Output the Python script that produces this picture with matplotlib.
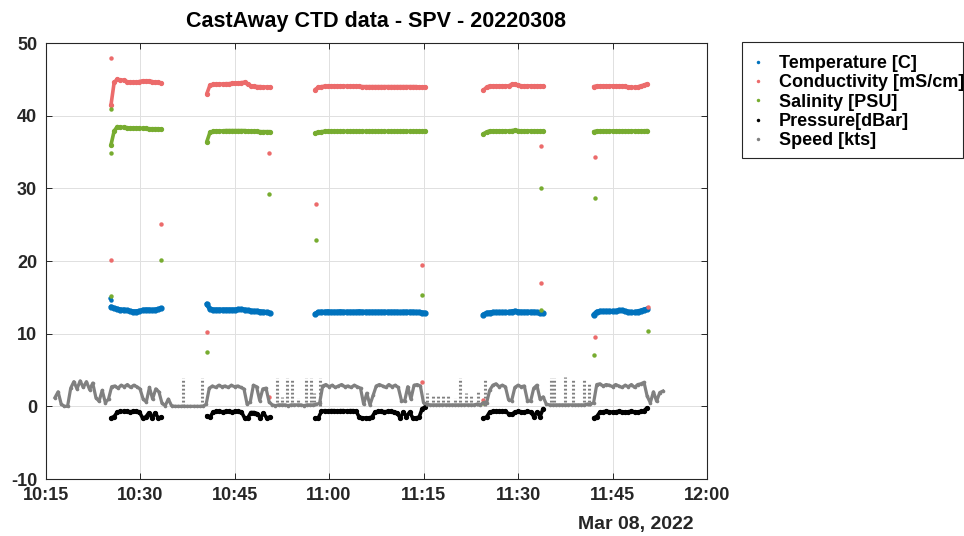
import matplotlib
matplotlib.use('Agg')
import matplotlib.pyplot as plt
import matplotlib.dates as mdates
from matplotlib.lines import Line2D
from matplotlib.patches import Rectangle
from datetime import datetime
import numpy as np

plt.rcParams['font.family'] = ['Liberation Sans', 'DejaVu Sans']
plt.rcParams['axes.unicode_minus'] = False

# ---------------- data (time in minutes after 10:15, 8 Mar 2022) ----------------
T0 = datetime(2022, 3, 8, 10, 15)
STEP = 0.5  # sampling interval of tabulated values (minutes)

cast_start = [10.4, 25.6, 42.8, 69.5, 87.0]

temp_casts = [
    [13.7, 13.5, 13.4, 13.3, 13.3, 13.2, 13.1, 13.05, 13.05, 13.1, 13.25, 13.3, 13.3, 13.25, 13.3, 13.35, 13.5],
    [14.1, 13.4, 13.3, 13.3, 13.3, 13.3, 13.3, 13.3, 13.3, 13.3, 13.35, 13.35, 13.3, 13.2, 13.15, 13.1, 13.1,
     13.05, 13.0, 12.95, 12.85],
    [12.7, 12.95, 13.0, 13.0, 13.05, 13.0, 13.0, 13.0, 13.05, 13.0, 13.0, 13.0, 13.0, 13.0, 13.05, 13.0, 13.0,
     13.0, 13.0, 13.0, 13.0, 13.0, 13.0, 13.0, 13.0, 13.0, 13.0, 12.95, 13.0, 13.0, 13.0, 13.0, 12.95, 12.95,
     12.9, 12.85],
    [12.6, 12.85, 12.9, 12.95, 12.95, 12.95, 12.95, 12.95, 12.95, 13.05, 13.1, 13.05, 13.0, 13.0, 13.0, 13.0,
     13.0, 12.95, 12.85, 12.8],
    [12.6, 13.0, 13.1, 13.1, 13.1, 13.1, 13.1, 13.1, 13.2, 13.2, 13.1, 13.0, 12.95, 12.95, 13.05, 13.15, 13.3, 13.4],
]

cond_casts = [
    [41.5, 44.6, 45.0, 44.9, 44.9, 44.7, 44.6, 44.6, 44.6, 44.7, 44.8, 44.8, 44.8, 44.7, 44.6, 44.6, 44.5],
    [43.0, 44.2, 44.3, 44.3, 44.35, 44.35, 44.4, 44.4, 44.45, 44.45, 44.5, 44.55, 44.6, 44.3, 44.1, 44.05, 44.0,
     44.0, 43.95, 43.95, 43.95],
    [43.6, 43.9, 44.0, 44.05, 44.05, 44.1, 44.1, 44.1, 44.1, 44.1, 44.05, 44.05, 44.05, 44.05, 44.05, 44.0, 44.0,
     44.0, 44.0, 44.0, 44.0, 44.0, 44.0, 44.0, 44.0, 44.0, 44.0, 44.0, 44.0, 44.0, 44.0, 44.0, 44.0, 43.95,
     43.95, 43.95],
    [43.5, 43.9, 44.1, 44.1, 44.1, 44.1, 44.1, 44.1, 44.1, 44.3, 44.35, 44.2, 44.1, 44.1, 44.1, 44.1, 44.1, 44.1,
     44.1, 44.1],
    [44.0, 44.1, 44.1, 44.1, 44.1, 44.1, 44.1, 44.1, 44.1, 44.1, 44.05, 43.95, 43.9, 43.9, 43.95, 44.1, 44.2, 44.4],
]

sal_casts = [
    [36.0, 37.9, 38.5, 38.4, 38.4, 38.35, 38.3, 38.3, 38.3, 38.3, 38.25, 38.25, 38.2, 38.2, 38.2, 38.2, 38.15],
    [36.4, 37.7, 37.85, 37.9, 37.9, 37.9, 37.95, 37.95, 37.95, 37.95, 37.95, 37.95, 37.95, 37.9, 37.85, 37.85,
     37.85, 37.8, 37.8, 37.8, 37.8],
    [37.6, 37.75, 37.8, 37.85, 37.85, 37.85, 37.85, 37.85, 37.85, 37.85, 37.85, 37.85, 37.85, 37.85, 37.85,
     37.85, 37.85, 37.85, 37.85, 37.85, 37.85, 37.85, 37.85, 37.85, 37.85, 37.85, 37.85, 37.85, 37.85, 37.85,
     37.85, 37.85, 37.85, 37.85, 37.85, 37.85],
    [37.5, 37.75, 37.9, 37.9, 37.9, 37.9, 37.9, 37.9, 37.9, 37.95, 38.0, 37.95, 37.9, 37.9, 37.9, 37.9, 37.9,
     37.9, 37.9, 37.9],
    [37.8, 37.9, 37.9, 37.9, 37.9, 37.9, 37.9, 37.9, 37.9, 37.9, 37.9, 37.9, 37.9, 37.9, 37.9, 37.9, 37.9, 37.95],
]

pres_casts = [
    [-1.6, -1.4, -0.8, -0.7, -0.7, -0.7, -0.75, -0.7, -0.7, -0.75, -1.6, -1.5, -0.9, -1.6, -0.9, -1.6, -1.5],
    [-1.3, -1.5, -0.8, -0.7, -0.7, -0.75, -0.7, -0.7, -0.75, -0.7, -0.7, -0.75, -1.6, -1.6, -0.85, -0.85, -1.0,
     -1.6, -0.9, -1.6, -1.5],
    [-1.6, -1.6, -0.7, -0.6, -0.65, -0.6, -0.6, -0.65, -0.6, -0.6, -0.65, -0.6, -0.6, -0.65, -1.5, -1.6, -1.6,
     -1.6, -1.5, -0.8, -0.7, -0.7, -0.75, -0.7, -0.7, -0.75, -0.9, -1.6, -0.8, -1.4, -0.8, -1.6, -1.6, -1.5,
     -0.3, -0.1],
    [-1.6, -1.5, -0.8, -0.7, -0.7, -0.7, -0.7, -0.7, -1.0, -1.1, -0.8, -0.7, -0.75, -0.8, -0.7, -0.75, -1.4,
     -0.8, -1.4, -0.3],
    [-1.6, -1.4, -0.8, -0.75, -0.7, -0.75, -0.8, -0.75, -0.7, -0.75, -0.8, -0.75, -0.7, -0.75, -0.8, -0.7, -0.6,
     -0.2],
]

# isolated points (surface / transition samples)
temp_out_t = [10.3, 10.33]
temp_out_v = [14.9, 14.6]
cond_out_t = [10.35, 10.35, 18.4, 25.7, 35.5, 35.5, 42.9, 59.7, 59.8, 69.5, 78.6, 78.65, 87.2, 87.2, 95.7]
cond_out_v = [47.9, 20.1, 25.1, 10.2, 34.9, 1.3, 27.8, 3.4, 19.4, 0.9, 35.8, 17.0, 34.3, 9.5, 13.7]
sal_out_t = [10.35, 10.35, 10.35, 18.4, 25.7, 35.5, 42.9, 59.8, 69.5, 78.6, 78.6, 87.2, 87.1, 95.7]
sal_out_v = [40.9, 34.9, 15.2, 20.2, 7.5, 29.2, 22.9, 15.3, 0.5, 30.0, 13.2, 28.7, 7.1, 10.4]

# speed record, every 0.5 min from 10:16:30
speed_start = 1.5
speed = [
    1.2, 2.0, 0.3, 0.0, 0.0, 2.5, 3.4, 2.4,
    3.5, 2.6, 3.4, 2.3, 3.2, 1.2, 0.7, 2.2, 0.5,
    1.0, 2.7, 2.8, 2.5, 2.9, 2.7, 3.0, 2.6, 2.9, 2.7, 2.4,
    1.0, 0.6, 2.6, 1.0, 2.4, 2.0, 0.4, 0.1, 1.0, 0.1,
    0.0, 0.0, 0.0, 0.0, 0.0, 0.0, 0.0, 0.0, 0.0, 0.0, 0.3,
    2.5, 2.8, 2.6, 2.9, 2.7, 2.8, 2.6, 2.9, 2.7, 2.8, 2.6, 2.4,
    0.3, 0.6, 2.9, 2.7, 0.8, 2.4, 2.5, 0.6,
    0.2, 0.1, 0.2, 0.2, 0.2, 0.1, 0.2, 0.2, 0.2, 0.2, 0.1, 0.2, 0.2, 0.2, 0.3, 0.4,
    2.8, 3.0, 2.7, 2.9, 2.6, 2.8, 3.0, 2.7, 2.8, 2.6, 2.9, 2.7, 2.5,
    0.3, 1.8, 0.2, 1.5, 2.8, 3.0, 2.8, 2.6, 3.0, 2.7, 2.9, 2.6, 0.8, 0.7, 2.7, 1.0, 2.9, 3.0, 2.8, 0.5,
    0.3, 0.2, 0.2, 0.2, 0.2, 0.2, 0.2, 0.2, 0.2, 0.2, 0.2, 0.2, 0.2, 0.2, 0.2, 0.2, 0.3, 0.2, 0.5, 0.4,
    2.2, 2.9, 3.1, 2.7, 2.9, 2.7, 0.9, 0.8, 2.6, 2.9, 2.7, 2.8, 0.8, 0.7, 2.5, 2.9, 1.0, 1.3,
    0.3, 0.2, 0.2, 0.2, 0.2, 0.2, 0.2, 0.2, 0.2, 0.2, 0.2, 0.2, 0.2, 0.3, 0.3, 0.5,
    3.0, 3.1, 2.8, 3.0, 2.9, 2.7, 3.0, 2.8, 2.6, 2.9, 2.7, 3.0, 2.6, 3.0, 3.1, 3.3, 1.4, 0.5, 2.0, 0.7, 1.9, 2.1,
]

# short bursts of speed (brief spikes)
spike_t = [21.8, 24.9, 36.8, 37.5, 38.3, 39.2, 40.0, 41.4, 42.2, 42.6, 43.6,
           60.5, 61.5, 62.3, 63.1, 63.9, 65.0, 65.8, 66.7, 67.5, 68.6, 69.8,
           80.3, 80.7, 82.5, 83.8, 85.4, 86.2]
spike_h = [3.9, 3.9, 3.9, 1.3, 3.9, 3.6, 1.1, 3.9, 3.9, 1.8, 3.9,
           1.8, 1.6, 1.6, 1.4, 1.4, 1.2, 3.9, 1.8, 1.4, 2.0, 3.8,
           3.9, 3.9, 4.0, 3.6, 3.6, 3.1]

labels = ['Temperature [C]', 'Conductivity [mS/cm]', 'Salinity [PSU]', 'Pressure[dBar]', 'Speed [kts]']
colors = ['#0072bd', '#ec6b6b', '#77ac30', '#000000', '#808080']

# ---------------- plotting ----------------
base = mdates.date2num(T0)


def tx(m):
    return base + np.asarray(m, dtype=float) / 1440.0


W, H = 964, 536
fig = plt.figure(figsize=(W / 100, H / 100), dpi=100)
ax = fig.add_axes([45.5 / W, 1 - 479 / H, 661.5 / W, 436 / H])
ax.set_axisbelow(True)
ax.grid(True, color='0.88', lw=0.7)

series = [(temp_casts, colors[0], 3.4, 5),
          (cond_casts, colors[1], 2.6, 4),
          (sal_casts, colors[2], 2.6, 4),
          (pres_casts, colors[3], 2.6, 4)]
for casts, c, lw, ms in series:
    for st, vals in zip(cast_start, casts):
        m = st + STEP * np.arange(len(vals))
        ax.plot(tx(m), vals, '-', color=c, lw=lw, marker='o', ms=ms * 0.7,
                solid_capstyle='round', solid_joinstyle='round', zorder=3)

ax.plot(tx(temp_out_t), temp_out_v, 'o', color=colors[0], ms=3.2, mec='none', zorder=3)
ax.plot(tx(cond_out_t), cond_out_v, 'o', color=colors[1], ms=3.2, mec='none', zorder=3)
ax.plot(tx(sal_out_t), sal_out_v, 'o', color=colors[2], ms=3.2, mec='none', zorder=3)

sm = speed_start + STEP * np.arange(len(speed))
ax.plot(tx(sm), speed, '-', color=colors[4], lw=2.3, marker='o', ms=2.6, mec='none',
        solid_joinstyle='round', zorder=4)
ax.vlines(tx(spike_t), 0, spike_h, colors=colors[4], lw=2.2, linestyles=(0, (0.6, 0.7)), zorder=4)

ax.set_xlim(tx(0), tx(105))
ax.set_ylim(-10, 50)
ax.set_yticks([-10, 0, 10, 20, 30, 40, 50])
ax.xaxis.set_major_locator(mdates.MinuteLocator(byminute=[0, 15, 30, 45]))
ax.xaxis.set_major_formatter(mdates.DateFormatter('%H:%M'))

for sp in ax.spines.values():
    sp.set_color('0.15')
    sp.set_linewidth(0.8)
ax.tick_params(direction='in', length=4, width=0.7, colors='0.15', top=True, right=True)
ax.tick_params(axis='x', pad=6, labelsize=13)
ax.tick_params(axis='y', pad=6, labelsize=13)
for lab in ax.get_xticklabels() + ax.get_yticklabels():
    lab.set_fontweight('bold')

fig.text(376 / W, 1 - 22 / H, 'CastAway CTD data - SPV - 20220308', ha='center', va='center',
         fontsize=15.5, fontweight='bold')
fig.text(694 / W, 1 - 525 / H, 'Mar 08, 2022', ha='right', va='center', fontsize=14,
         fontweight='bold', color='0.15')

# legend (box drawn separately to match the original padding)
handles = [Line2D([], [], ls='none', marker='o', ms=2.5, mec='none', color=c) for c in colors]
fig.legend(handles, labels, loc='upper left', bbox_to_anchor=(751 / W, 1 - 55 / H),
           frameon=False, prop=dict(weight='bold', size=13), handlelength=0.8, handletextpad=0.75,
           borderpad=0, labelspacing=0.13, borderaxespad=0)
fig.add_artist(Rectangle((742 / W, 1 - 158 / H), 221 / W, 116 / H, transform=fig.transFigure,
                         fill=False, ec='0.15', lw=0.8))

fig.savefig('out.png', dpi=100)
